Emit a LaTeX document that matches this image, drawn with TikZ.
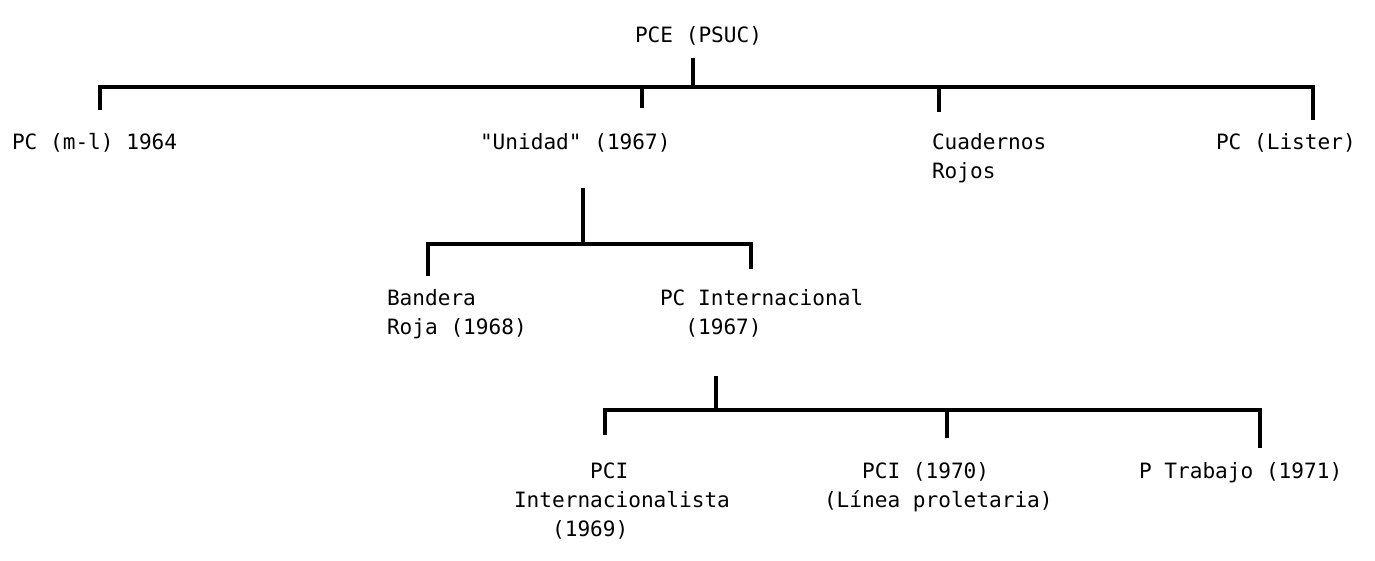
\documentclass[tikz,border=0pt]{standalone}
\usepackage{fontspec}
\newfontfamily\monofam{DejaVu Sans Mono}
\tikzset{
  lbl/.style={inner sep=0pt, outer sep=0pt, anchor=base west, align=left,
    font=\monofam\fontsize{10.55}{14.5}\selectfont},
  tree/.style={line width=1.6pt, line cap=rect, line join=miter},
}
\begin{document}
\begin{tikzpicture}[x=0.5pt,y=-0.5pt]
\useasboundingbox (0,0) rectangle (1375,561);
% ---------- texts (anchor = baseline of last line) ----------
\node[lbl] (pce) at (635,43) {PCE (PSUC)};
\node[lbl] (pcml) at (12,150) {PC (m-l) 1964};
\node[lbl] (unidad) at (480,150) {"Unidad" (1967)};
\node[lbl] (cuad) at (932,179) {Cuadernos\\Rojos};
\node[lbl] (lister) at (1216,150) {PC (Lister)};
\node[lbl] (bandera) at (387,334) {Bandera\\Roja (1968)};
\node[lbl] (pcint) at (660,334) {PC Internacional\\\hphantom{00}(1967)};
\node[lbl] (pcii) at (514,536) {\hphantom{000000}PCI\\Internacionalista\\\hphantom{000}(1969)};
\node[lbl] (pci70) at (824,507) {\hphantom{000}PCI (1970)\\(Línea proletaria)};
\node[lbl] (ptrab) at (1139,478) {P Trabajo (1971)};
% ---------- junction coordinates ----------
\coordinate (s0) at (693,60);
\coordinate (j0) at (693,87);
\coordinate (d1) at (100,108);
\coordinate (d2) at (642,106);
\coordinate (d3) at (939,110);
\coordinate (d4) at (1313,118);
\coordinate (s1) at (583,190);
\coordinate (j1) at (583,244);
\coordinate (e1) at (428,274);
\coordinate (e2) at (751,267);
\coordinate (s2) at (716,378);
\coordinate (j2) at (716,410);
\coordinate (f1) at (605,433);
\coordinate (f2) at (947,436);
\coordinate (f3) at (1260,446);
% ---------- connectors ----------
\draw[tree] (s0) -- (j0);
\draw[tree] (d1) |- (j0) -| (d4);
\draw[tree] (d2 |- j0) -- (d2);
\draw[tree] (d3 |- j0) -- (d3);
\draw[tree] (s1) -- (j1);
\draw[tree] (e1) |- (j1) -| (e2);
\draw[tree] (s2) -- (j2);
\draw[tree] (f1) |- (j2) -| (f3);
\draw[tree] (f2 |- j2) -- (f2);
\end{tikzpicture}
\end{document}
